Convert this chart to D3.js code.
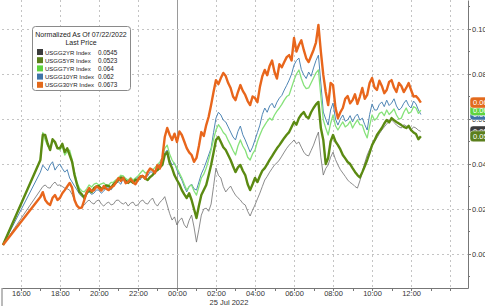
<!DOCTYPE html>
<html>
<head>
<meta charset="utf-8">
<script src="https://cdn.jsdelivr.net/npm/d3@7"></script>
<style>
  body { margin: 0; background: #fff; }
  text { font-family: "Liberation Sans", Arial, sans-serif; }
</style>
</head>
<body>
<div id="chart"></div>
<script>
// yields normalized to 07/22/2022
// first value = 15:05 open, then 7.5 min samples from 17:00 to 12:30
var seriesNames = ["USGG2YR Index", "USGG5YR Index", "USGG7YR Index", "USGG10YR Index", "USGG30YR Index"];
var lastPrices = ["0.0545", "0.0523", "0.064", "0.062", "0.0673"];
var badgeLabels = ["0.055", "0.052", "0.064", "0.062", "0.067"];
var seriesColors = ["#6e6e6e", "#5b8a12", "#86e27a", "#4f86b5", "#e8661c"];
var swatchColors = ["#3c3c3c", "#5b7f1c", "#5fd43e", "#3f74a8", "#e36a1c"];

var usgg2 = [0.0040,
  0.0284, 0.0300, 0.0307, 0.0295, 0.0293, 0.0310, 0.0320, 0.0305, 0.0307, 0.0300,
  0.0293, 0.0290, 0.0284, 0.0265, 0.0240, 0.0220, 0.0204, 0.0212, 0.0218, 0.0232,
  0.0240, 0.0228, 0.0222, 0.0236, 0.0240, 0.0222, 0.0213, 0.0225, 0.0231, 0.0218,
  0.0222, 0.0238, 0.0240, 0.0228, 0.0222, 0.0230, 0.0213, 0.0226, 0.0231, 0.0215,
  0.0218, 0.0234, 0.0240, 0.0226, 0.0222, 0.0238, 0.0249, 0.0225, 0.0213, 0.0230,
  0.0240, 0.0255, 0.0218, 0.0180, 0.0151, 0.0165, 0.0129, 0.0150, 0.0160, 0.0130,
  0.0116, 0.0150, 0.0173, 0.0120, 0.0053, 0.0110, 0.0173, 0.0200, 0.0204, 0.0190,
  0.0222, 0.0300, 0.0382, 0.0350, 0.0338, 0.0300, 0.0276, 0.0290, 0.0302, 0.0280,
  0.0262, 0.0250, 0.0240, 0.0225, 0.0218, 0.0190, 0.0169, 0.0195, 0.0218, 0.0245,
  0.0271, 0.0300, 0.0329, 0.0345, 0.0364, 0.0380, 0.0396, 0.0405, 0.0418, 0.0435,
  0.0453, 0.0470, 0.0484, 0.0495, 0.0507, 0.0490, 0.0498, 0.0475, 0.0453, 0.0440,
  0.0436, 0.0460, 0.0484, 0.0515, 0.0542, 0.0430, 0.0351, 0.0380, 0.0396, 0.0430,
  0.0453, 0.0420, 0.0396, 0.0375, 0.0360, 0.0345, 0.0329, 0.0318, 0.0311, 0.0300,
  0.0293, 0.0325, 0.0364, 0.0405, 0.0440, 0.0465, 0.0484, 0.0500, 0.0516, 0.0535,
  0.0551, 0.0565, 0.0578, 0.0590, 0.0596, 0.0585, 0.0573, 0.0565, 0.0560, 0.0575,
  0.0569, 0.0560, 0.0551, 0.0565, 0.0560, 0.0550, 0.0545];

var usgg5 = [0.0040,
  0.0418, 0.0530, 0.0529, 0.0490, 0.0462, 0.0510, 0.0498, 0.0470, 0.0471, 0.0490,
  0.0453, 0.0470, 0.0440, 0.0410, 0.0351, 0.0310, 0.0276, 0.0265, 0.0249, 0.0270,
  0.0284, 0.0275, 0.0293, 0.0300, 0.0302, 0.0290, 0.0293, 0.0305, 0.0302, 0.0295,
  0.0311, 0.0320, 0.0329, 0.0340, 0.0338, 0.0325, 0.0316, 0.0325, 0.0316, 0.0330,
  0.0329, 0.0345, 0.0347, 0.0335, 0.0329, 0.0342, 0.0351, 0.0365, 0.0373, 0.0385,
  0.0396, 0.0440, 0.0453, 0.0405, 0.0382, 0.0350, 0.0329, 0.0310, 0.0284, 0.0265,
  0.0249, 0.0270, 0.0240, 0.0200, 0.0160, 0.0215, 0.0262, 0.0285, 0.0307, 0.0350,
  0.0396, 0.0450, 0.0507, 0.0520, 0.0498, 0.0475, 0.0462, 0.0440, 0.0418, 0.0390,
  0.0364, 0.0385, 0.0396, 0.0370, 0.0351, 0.0310, 0.0284, 0.0310, 0.0338, 0.0320,
  0.0347, 0.0370, 0.0382, 0.0400, 0.0418, 0.0435, 0.0453, 0.0470, 0.0484, 0.0500,
  0.0516, 0.0530, 0.0542, 0.0565, 0.0587, 0.0575, 0.0604, 0.0620, 0.0631, 0.0610,
  0.0604, 0.0630, 0.0649, 0.0665, 0.0676, 0.0560, 0.0507, 0.0400, 0.0427, 0.0500,
  0.0529, 0.0500, 0.0484, 0.0465, 0.0440, 0.0425, 0.0409, 0.0400, 0.0382, 0.0365,
  0.0351, 0.0340, 0.0364, 0.0390, 0.0418, 0.0450, 0.0484, 0.0505, 0.0529, 0.0545,
  0.0560, 0.0580, 0.0596, 0.0585, 0.0604, 0.0595, 0.0587, 0.0580, 0.0573, 0.0565,
  0.0560, 0.0570, 0.0551, 0.0540, 0.0533, 0.0510, 0.0523];

var usgg7 = [0.0040,
  0.0418, 0.0540, 0.0507, 0.0480, 0.0471, 0.0505, 0.0493, 0.0470, 0.0462, 0.0480,
  0.0440, 0.0455, 0.0462, 0.0420, 0.0364, 0.0320, 0.0293, 0.0280, 0.0276, 0.0290,
  0.0307, 0.0298, 0.0311, 0.0315, 0.0307, 0.0312, 0.0316, 0.0305, 0.0307, 0.0318,
  0.0320, 0.0330, 0.0338, 0.0350, 0.0347, 0.0335, 0.0329, 0.0340, 0.0329, 0.0338,
  0.0347, 0.0360, 0.0373, 0.0360, 0.0364, 0.0375, 0.0373, 0.0385, 0.0396, 0.0410,
  0.0427, 0.0470, 0.0484, 0.0445, 0.0418, 0.0400, 0.0382, 0.0360, 0.0338, 0.0310,
  0.0284, 0.0300, 0.0307, 0.0280, 0.0262, 0.0300, 0.0338, 0.0355, 0.0382, 0.0420,
  0.0462, 0.0510, 0.0551, 0.0575, 0.0560, 0.0540, 0.0529, 0.0505, 0.0484, 0.0460,
  0.0440, 0.0480, 0.0507, 0.0480, 0.0462, 0.0430, 0.0418, 0.0445, 0.0462, 0.0500,
  0.0529, 0.0555, 0.0573, 0.0590, 0.0604, 0.0595, 0.0618, 0.0635, 0.0649, 0.0665,
  0.0684, 0.0700, 0.0707, 0.0740, 0.0773, 0.0800, 0.0818, 0.0780, 0.0751, 0.0735,
  0.0738, 0.0760, 0.0782, 0.0805, 0.0818, 0.0700, 0.0596, 0.0560, 0.0529, 0.0580,
  0.0618, 0.0570, 0.0551, 0.0570, 0.0587, 0.0565, 0.0573, 0.0590, 0.0560, 0.0580,
  0.0596, 0.0575, 0.0573, 0.0540, 0.0516, 0.0570, 0.0618, 0.0595, 0.0604, 0.0625,
  0.0631, 0.0615, 0.0640, 0.0620, 0.0631, 0.0645, 0.0618, 0.0600, 0.0604, 0.0630,
  0.0649, 0.0625, 0.0631, 0.0655, 0.0649, 0.0625, 0.0640];

var usgg10 = [0.0040,
  0.0364, 0.0395, 0.0382, 0.0370, 0.0396, 0.0410, 0.0373, 0.0390, 0.0400, 0.0380,
  0.0364, 0.0375, 0.0338, 0.0320, 0.0302, 0.0285, 0.0267, 0.0255, 0.0258, 0.0275,
  0.0276, 0.0265, 0.0271, 0.0285, 0.0284, 0.0270, 0.0280, 0.0295, 0.0293, 0.0285,
  0.0302, 0.0315, 0.0320, 0.0310, 0.0338, 0.0325, 0.0329, 0.0340, 0.0320, 0.0335,
  0.0342, 0.0330, 0.0351, 0.0340, 0.0347, 0.0365, 0.0364, 0.0355, 0.0382, 0.0400,
  0.0418, 0.0450, 0.0462, 0.0420, 0.0396, 0.0405, 0.0373, 0.0350, 0.0329, 0.0300,
  0.0276, 0.0300, 0.0311, 0.0290, 0.0284, 0.0320, 0.0356, 0.0380, 0.0409, 0.0440,
  0.0471, 0.0540, 0.0604, 0.0630, 0.0618, 0.0595, 0.0587, 0.0565, 0.0542, 0.0520,
  0.0507, 0.0545, 0.0569, 0.0530, 0.0507, 0.0480, 0.0453, 0.0475, 0.0507, 0.0540,
  0.0573, 0.0620, 0.0649, 0.0630, 0.0658, 0.0670, 0.0649, 0.0675, 0.0693, 0.0705,
  0.0729, 0.0750, 0.0773, 0.0800, 0.0840, 0.0860, 0.0871, 0.0820, 0.0796, 0.0780,
  0.0809, 0.0790, 0.0827, 0.0860, 0.0884, 0.0760, 0.0631, 0.0600, 0.0573, 0.0640,
  0.0671, 0.0600, 0.0573, 0.0600, 0.0618, 0.0590, 0.0596, 0.0615, 0.0587, 0.0610,
  0.0622, 0.0595, 0.0604, 0.0575, 0.0551, 0.0620, 0.0667, 0.0640, 0.0640, 0.0665,
  0.0676, 0.0655, 0.0684, 0.0660, 0.0671, 0.0690, 0.0658, 0.0640, 0.0649, 0.0670,
  0.0684, 0.0660, 0.0649, 0.0680, 0.0667, 0.0640, 0.0620];

var usgg30 = [0.0040,
  0.0253, 0.0275, 0.0240, 0.0226, 0.0218, 0.0250, 0.0262, 0.0240, 0.0249, 0.0270,
  0.0284, 0.0300, 0.0316, 0.0295, 0.0240, 0.0215, 0.0204, 0.0206, 0.0240, 0.0275,
  0.0293, 0.0280, 0.0284, 0.0300, 0.0293, 0.0282, 0.0302, 0.0290, 0.0284, 0.0296,
  0.0302, 0.0318, 0.0338, 0.0325, 0.0338, 0.0315, 0.0320, 0.0333, 0.0320, 0.0310,
  0.0329, 0.0345, 0.0347, 0.0335, 0.0364, 0.0380, 0.0373, 0.0360, 0.0396, 0.0380,
  0.0427, 0.0520, 0.0560, 0.0530, 0.0507, 0.0535, 0.0498, 0.0545, 0.0529, 0.0500,
  0.0471, 0.0452, 0.0440, 0.0410, 0.0427, 0.0480, 0.0542, 0.0525, 0.0573, 0.0610,
  0.0662, 0.0720, 0.0773, 0.0755, 0.0782, 0.0805, 0.0791, 0.0760, 0.0738, 0.0700,
  0.0684, 0.0720, 0.0751, 0.0725, 0.0707, 0.0680, 0.0662, 0.0700, 0.0693, 0.0675,
  0.0742, 0.0790, 0.0818, 0.0795, 0.0836, 0.0860, 0.0809, 0.0780, 0.0844, 0.0830,
  0.0853, 0.0875, 0.0884, 0.0860, 0.0960, 0.0900, 0.0929, 0.0950, 0.0907, 0.0870,
  0.0853, 0.0880, 0.0907, 0.0940, 0.1018, 0.0900, 0.0796, 0.0720, 0.0662, 0.0760,
  0.0751, 0.0650, 0.0604, 0.0630, 0.0649, 0.0690, 0.0702, 0.0670, 0.0684, 0.0710,
  0.0667, 0.0700, 0.0738, 0.0690, 0.0707, 0.0760, 0.0782, 0.0740, 0.0729, 0.0770,
  0.0747, 0.0715, 0.0729, 0.0765, 0.0773, 0.0740, 0.0720, 0.0760, 0.0747, 0.0720,
  0.0738, 0.0760, 0.0729, 0.0700, 0.0702, 0.0690, 0.0673];

var yTickValues = [0, 0.02, 0.04, 0.06, 0.08, 0.10];
var yMinorValues = [-0.01, 0.01, 0.03, 0.05, 0.07, 0.09, 0.11];

var svgWidth = 485, svgHeight = 306;
var plotLeft = 2, plotRight = 468, plotTop = 0, plotBottom = 288;

var parseTime = d3.timeParse("%Y-%m-%d %H:%M");
var openTime = parseTime("2022-07-24 15:05");
var firstSample = parseTime("2022-07-24 17:00");
var times = [openTime].concat(d3.range(usgg2.length - 1).map(i => d3.timeSecond.offset(firstSample, 450 * i)));

var allSeries = [usgg2, usgg5, usgg7, usgg10, usgg30];
var lineWidths = [0.8, 2.4, 1.3, 1.0, 2.4];
// draw order: 2y, 10y, 7y, 5y, 30y
var drawOrder = [0, 3, 2, 1, 4];

var svg = d3.select("#chart").append("svg")
  .attr("width", svgWidth)
  .attr("height", svgHeight);

var x = d3.scaleTime()
  .domain([parseTime("2022-07-24 15:02"), parseTime("2022-07-25 14:55")])
  .range([plotLeft, plotRight]);

var y = d3.scaleLinear()
  .domain([-0.0151, 0.1129])
  .range([plotBottom, plotTop]);

var gridTimes = x.ticks(d3.timeHour.every(2));
var hourTimes = x.ticks(d3.timeHour.every(1));

// grid
var grid = svg.append("g");
grid.selectAll(".vgrid")
  .data(gridTimes)
  .enter().append("line")
  .attr("x1", d => Math.round(x(d)) + 0.5)
  .attr("x2", d => Math.round(x(d)) + 0.5)
  .attr("y1", plotTop)
  .attr("y2", plotBottom)
  .attr("stroke", d => d.getHours() === 0 ? "#9a9a9a" : "#c4c4c4")
  .attr("stroke-width", 1)
  .attr("stroke-dasharray", d => d.getHours() === 0 ? null : "2,3");

grid.selectAll(".hgrid")
  .data(yTickValues)
  .enter().append("line")
  .attr("x1", plotLeft)
  .attr("x2", plotRight)
  .attr("y1", d => Math.round(y(d)) + 0.5)
  .attr("y2", d => Math.round(y(d)) + 0.5)
  .attr("stroke", "#c4c4c4")
  .attr("stroke-dasharray", "2,3");

// lines
var line = d3.line()
  .x((d, i) => x(times[i]))
  .y(d => y(d));

svg.append("g").selectAll("path")
  .data(drawOrder)
  .enter().append("path")
  .attr("d", k => line(allSeries[k]))
  .attr("fill", "none")
  .attr("stroke", k => seriesColors[k])
  .attr("stroke-width", k => lineWidths[k])
  .attr("stroke-linejoin", "round");

// bottom axis
var xAxis = svg.append("g")
  .attr("transform", `translate(0, ${plotBottom})`)
  .call(d3.axisBottom(x)
    .tickValues(gridTimes.filter(d => d.getHours() !== 14))
    .tickFormat(d3.timeFormat("%H:%M"))
    .tickSizeInner(2)
    .tickSizeOuter(0)
    .tickPadding(1));
xAxis.select(".domain").attr("stroke", "#777");
xAxis.selectAll(".tick line").attr("stroke", "#777");
xAxis.selectAll("text").attr("font-size", "7.5px").attr("fill", "#333")
  .attr("font-family", "\"Liberation Sans\", Arial, sans-serif");

svg.append("g").selectAll("line")
  .data(hourTimes)
  .enter().append("line")
  .attr("x1", d => Math.round(x(d)) + 0.5)
  .attr("x2", d => Math.round(x(d)) + 0.5)
  .attr("y1", plotBottom)
  .attr("y2", plotBottom + 3)
  .attr("stroke", "#777");

svg.append("line")
  .attr("x1", plotLeft).attr("x2", plotLeft)
  .attr("y1", plotBottom).attr("y2", svgHeight)
  .attr("stroke", "#777");

svg.append("text")
  .attr("x", x(parseTime("2022-07-25 02:40")))
  .attr("y", 305)
  .attr("text-anchor", "middle")
  .attr("font-size", "7.5px")
  .attr("fill", "#333")
  .text("25 Jul 2022");

// right axis
var yAxis = svg.append("g")
  .attr("transform", `translate(${plotRight}, 0)`)
  .call(d3.axisRight(y)
    .tickValues(yTickValues)
    .tickFormat(d3.format(".2f"))
    .tickSizeInner(3)
    .tickSizeOuter(0)
    .tickPadding(1));
yAxis.select(".domain").attr("stroke", "#777");
yAxis.selectAll(".tick line").attr("stroke", "#777");
yAxis.selectAll("text").attr("font-size", "7.5px").attr("fill", "#333")
  .attr("font-family", "\"Liberation Sans\", Arial, sans-serif");

svg.append("g").selectAll("line")
  .data(yMinorValues)
  .enter().append("line")
  .attr("x1", plotRight)
  .attr("x2", plotRight + 2)
  .attr("y1", d => y(d))
  .attr("y2", d => y(d))
  .attr("stroke", "#777");

// last value badges: 2y under 5y, 10y under 7y under 30y
var badgeOrder = [3, 2, 4, 0, 1];
var badges = svg.append("g").selectAll("g")
  .data(badgeOrder)
  .enter().append("g")
  .attr("transform", k => `translate(${plotRight + 2}, ${y(allSeries[k][allSeries[k].length - 1])})`);

badges.append("rect")
  .attr("x", 0)
  .attr("y", -5.5)
  .attr("width", 30)
  .attr("height", 11)
  .attr("rx", 3)
  .attr("fill", k => swatchColors[k])
  .attr("stroke", "#fff")
  .attr("stroke-width", 0.5);

badges.append("text")
  .attr("x", 3)
  .attr("y", 2.6)
  .attr("font-size", "7.5px")
  .attr("fill", "#fff")
  .text(k => badgeLabels[k]);

// legend
var legend = svg.append("g").attr("transform", "translate(32, 26)");
legend.append("rect")
  .attr("x", 0.5).attr("y", 0.5)
  .attr("width", 98).attr("height", 64)
  .attr("rx", 3)
  .attr("fill", "#fff")
  .attr("stroke", "#8a8a8a");

legend.append("text")
  .attr("x", 49).attr("y", 10.5)
  .attr("text-anchor", "middle")
  .attr("font-size", "7px")
  .attr("fill", "#222")
  .text("Normalized As Of 07/22/2022");
legend.append("text")
  .attr("x", 49).attr("y", 18.8)
  .attr("text-anchor", "middle")
  .attr("font-size", "7px")
  .attr("fill", "#222")
  .text("Last Price");

var rows = legend.selectAll(".row")
  .data(seriesNames)
  .enter().append("g")
  .attr("transform", (d, i) => `translate(0, ${23 + i * 8.2})`);
rows.append("rect")
  .attr("x", 5).attr("y", 0)
  .attr("width", 6).attr("height", 6)
  .attr("fill", (d, i) => swatchColors[i]);
rows.append("text")
  .attr("x", 13).attr("y", 5.6)
  .attr("font-size", "6px")
  .attr("fill", "#222")
  .text(d => d);
rows.append("text")
  .attr("x", 66).attr("y", 5.6)
  .attr("font-size", "6.3px")
  .attr("fill", "#222")
  .text((d, i) => lastPrices[i]);
</script>
</body>
</html>
